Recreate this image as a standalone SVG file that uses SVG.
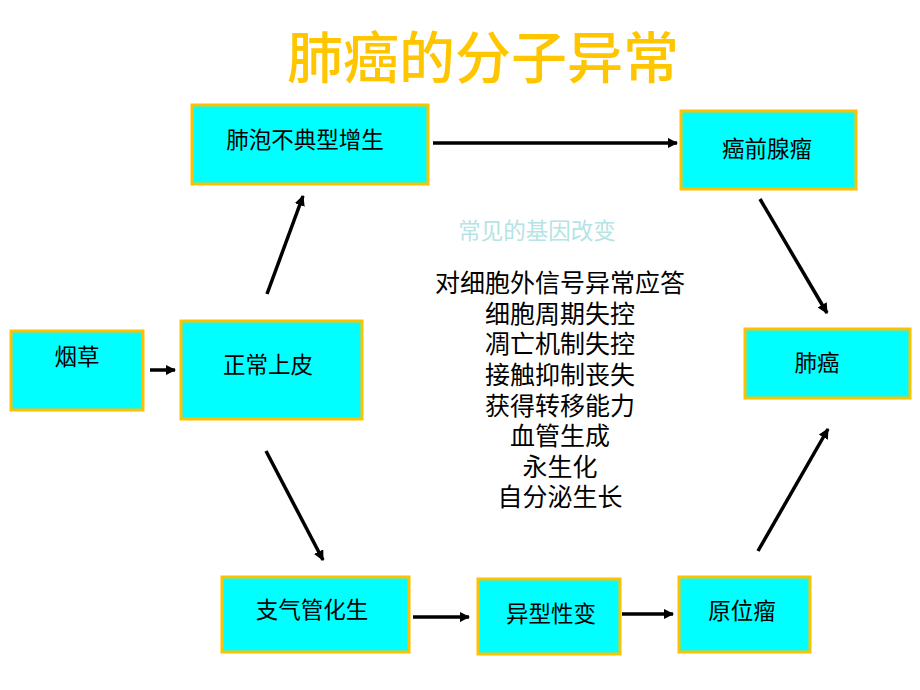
<svg xmlns="http://www.w3.org/2000/svg" width="920" height="690" viewBox="0 0 920 690">
<defs>
<style>
.box{fill:#00FFFF;stroke:#FFC000;stroke-width:3}
.lbl{font-family:"Noto Sans CJK SC","Noto Sans",sans-serif;font-size:22.5px;fill:#000;text-anchor:middle;dominant-baseline:central}
.conn line{stroke:#000;stroke-width:3.5;marker-end:url(#ah)}
.list{font-family:"Noto Sans CJK SC","Noto Sans",sans-serif;font-size:25px;fill:#000;text-anchor:middle;dominant-baseline:central}
</style>
<marker id="ah" viewBox="0 0 10 10" refX="9" refY="5" markerWidth="3" markerHeight="3" orient="auto" markerUnits="strokeWidth">
<path d="M0,0 L10,5 L0,10 z" fill="#000"/>
</marker>
</defs>
<rect width="920" height="690" fill="#fff"/>
<text x="483" y="53" font-family="'Noto Sans CJK SC',sans-serif" font-size="56" font-weight="500" fill="#FFC600" text-anchor="middle" dominant-baseline="central">肺癌的分子异常</text>

<g id="n1"><rect class="box" x="192" y="105" width="236" height="79"/><text class="lbl" x="305" y="138">肺泡不典型增生</text></g>
<g id="n2"><rect class="box" x="681" y="111" width="175" height="78"/><text class="lbl" x="767" y="147">癌前腺瘤</text></g>
<g id="n3"><rect class="box" x="11" y="331" width="132" height="79"/><text class="lbl" x="77" y="355">烟草</text></g>
<g id="n4"><rect class="box" x="181" y="321" width="181" height="98"/><text class="lbl" x="268" y="363">正常上皮</text></g>
<g id="n5"><rect class="box" x="745" y="329" width="165" height="69"/><text class="lbl" x="817" y="361">肺癌</text></g>
<g id="n6"><rect class="box" x="222" y="577" width="187" height="75"/><text class="lbl" x="312" y="608">支气管化生</text></g>
<g id="n7"><rect class="box" x="478" y="579" width="142" height="75"/><text class="lbl" x="551" y="612">异型性变</text></g>
<g id="n8"><rect class="box" x="679" y="577" width="131" height="75"/><text class="lbl" x="742" y="609">原位瘤</text></g>

<g id="changes">
<text x="537" y="229" font-family="'Noto Sans CJK SC',sans-serif" font-size="22.5" fill="#B4E4E4" text-anchor="middle" dominant-baseline="central">常见的基因改变</text>
<text class="list" x="560" y="281">对细胞外信号异常应答</text>
<text class="list" x="560" y="312">细胞周期失控</text>
<text class="list" x="560" y="342">凋亡机制失控</text>
<text class="list" x="560" y="373">接触抑制丧失</text>
<text class="list" x="560" y="404">获得转移能力</text>
<text class="list" x="560" y="434">血管生成</text>
<text class="list" x="560" y="465">永生化</text>
<text class="list" x="560" y="495">自分泌生长</text>
</g>

<g class="conn" id="connectors">
<line x1="433" y1="143" x2="677" y2="143"/>
<line x1="150" y1="370" x2="175" y2="370"/>
<line x1="267" y1="294" x2="303" y2="196"/>
<line x1="266" y1="451" x2="323" y2="560"/>
<line x1="760" y1="199" x2="827" y2="313"/>
<line x1="758" y1="551" x2="828" y2="429"/>
<line x1="413" y1="617" x2="469" y2="617"/>
<line x1="622" y1="614" x2="673" y2="614"/>
</g>
</svg>
